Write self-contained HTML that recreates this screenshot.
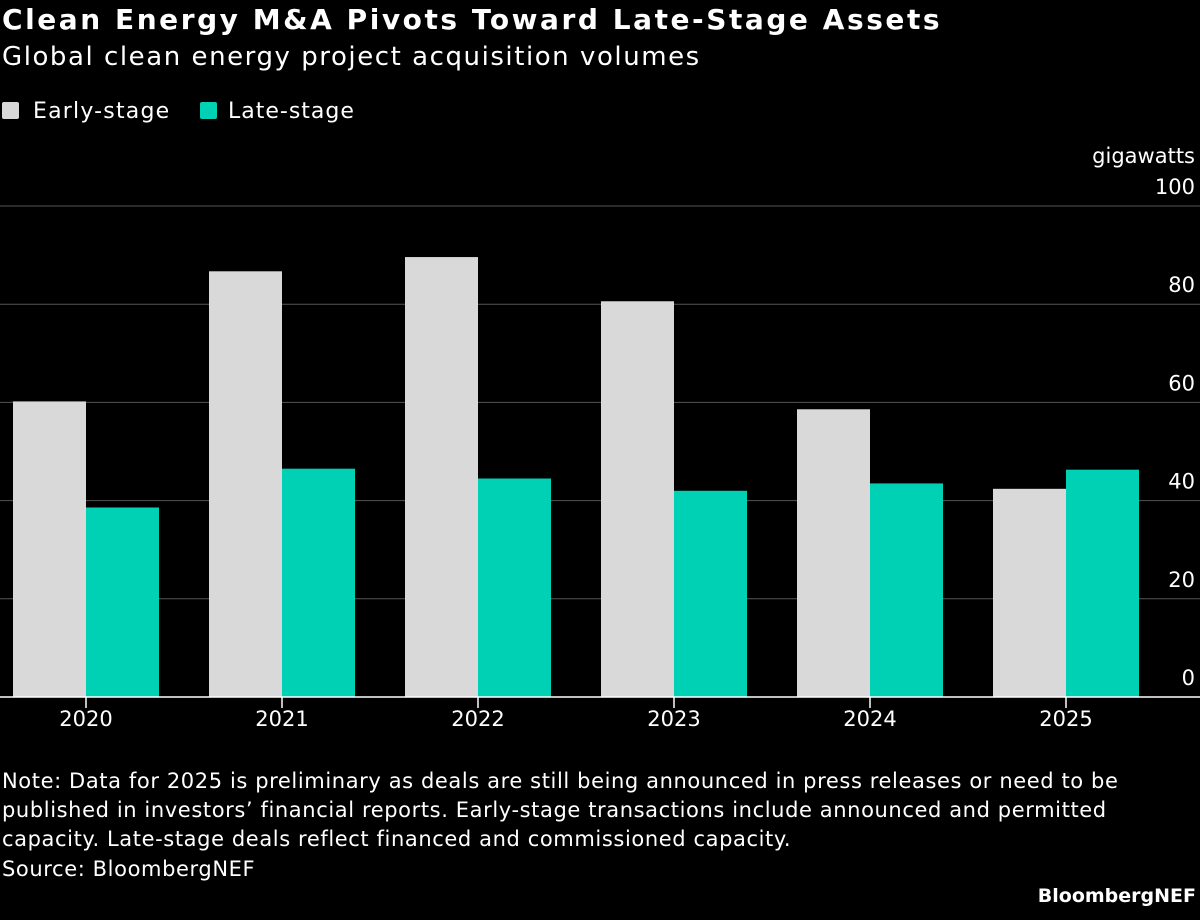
<!DOCTYPE html>
<html><head><meta charset="utf-8"><style>
body{margin:0;width:1200px;height:920px;background:#000;color:#fff;font-family:"DejaVu Sans","Liberation Sans",sans-serif;overflow:hidden;position:relative}
.t{position:absolute;white-space:nowrap}
</style></head><body>
<div class="t" style="left:2px;top:3px;font-size:28px;font-weight:bold;letter-spacing:2.55px">Clean Energy M&amp;A Pivots Toward Late-Stage Assets</div>
<div class="t" style="left:2px;top:42px;font-size:26px;letter-spacing:1.55px">Global clean energy project acquisition volumes</div>
<div class="t" style="left:2px;top:99px;font-size:22px;letter-spacing:1.2px"><span style="display:inline-block;width:17px;height:17px;background:#d9d9d9;border-radius:2px;vertical-align:-1px;margin-right:14px"></span>Early-stage</div>
<div class="t" style="left:200px;top:99px;font-size:22px;letter-spacing:1.0px"><span style="display:inline-block;width:17px;height:17px;background:#00d0b4;border-radius:2px;vertical-align:-1px;margin-right:11px"></span>Late-stage</div>
<svg id="chart" width="1200" height="760" style="position:absolute;left:0;top:0"></svg>
<div class="t" style="left:2px;top:767px;font-size:21px;line-height:29px;letter-spacing:0.6px">Note: Data for 2025 is preliminary as deals are still being announced in press releases or need to be<br>published in investors’ financial reports. Early-stage transactions include announced and permitted<br>capacity. Late-stage deals reflect financed and commissioned capacity.</div>
<div class="t" style="left:2px;top:857px;font-size:21px;letter-spacing:0.6px">Source: BloombergNEF</div>
<div class="t" style="right:4px;top:885px;font-size:19px;font-weight:bold">BloombergNEF</div>
<script>
const categories=["2020","2021","2022","2023","2024","2025"];
const earlyStage=[60.2,86.7,89.6,80.6,58.6,42.4];
const lateStage=[38.6,46.5,44.5,42,43.5,46.3];
const yTicks=[0,20,40,60,80,100];
const NS="http://www.w3.org/2000/svg";
const svg=document.getElementById('chart');
const y0=697,yTop=206,yMax=100;
const y=v=>y0-(v/yMax)*(y0-yTop);
const x0=86,step=196,bw=73;
const xc=i=>x0+i*step;
const FF='DejaVu Sans, Liberation Sans, sans-serif';
function mk(t,a){const e=document.createElementNS(NS,t);for(const k in a)e.setAttribute(k,a[k]);svg.appendChild(e);return e;}
yTicks.forEach(v=>{
  if(v>0){const g=mk('line',{x1:0,x2:1200,y1:y(v),y2:y(v),stroke:'#555','stroke-width':1});
  
  }
  const t=mk('text',{x:1195,y:y(v)-12,fill:'#fff','font-size':21,'text-anchor':'end','font-family':FF});
  t.textContent=v;
  
  
});
const u=mk('text',{x:1195,y:163,fill:'#fff','font-size':21,'text-anchor':'end','font-family':FF});
u.textContent='gigawatts';


categories.forEach((c,i)=>{
  const a=mk('rect',{x:xc(i)-bw,y:y(earlyStage[i]),width:bw,height:y0-y(earlyStage[i]),fill:'#d9d9d9'});
  
  
  const b=mk('rect',{x:xc(i),y:y(lateStage[i]),width:bw,height:y0-y(lateStage[i]),fill:'#00d0b4'});
  
  
  const tk=mk('line',{x1:xc(i),x2:xc(i),y1:y0,y2:y0+11,stroke:'#fff','stroke-width':1.5});
  
  
  const t=mk('text',{x:xc(i),y:726,fill:'#fff','font-size':21,'text-anchor':'middle','font-family':FF});
  t.textContent=c;
  
  
});
const ax=mk('line',{x1:0,x2:1200,y1:y0,y2:y0,stroke:'#fff','stroke-width':1.5});


</script>
</body></html>
